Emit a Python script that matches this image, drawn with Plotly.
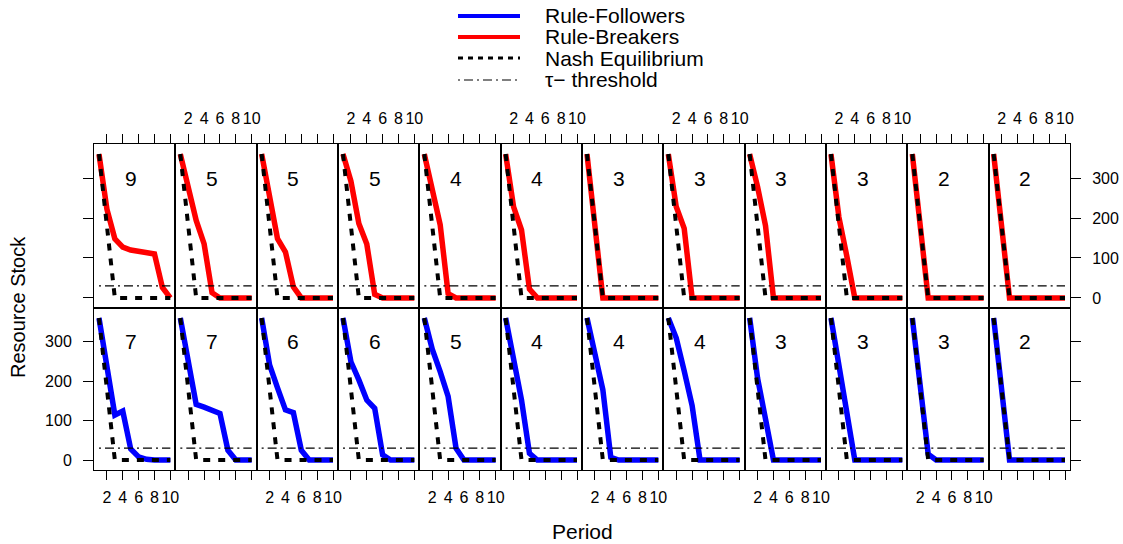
import plotly.graph_objects as go

# ---------------- data ----------------
PERIODS = [1, 2, 3, 4, 5, 6, 7, 8, 9, 10]
X_TICKS = [2, 4, 6, 8, 10]
Y_TICKS = [0, 100, 200, 300]

# panel labels (top row = Rule-Breakers, bottom row = Rule-Followers)
BREAKER_LABELS = [9, 5, 5, 5, 4, 4, 3, 3, 3, 3, 2, 2]
FOLLOWER_LABELS = [7, 7, 6, 6, 5, 4, 4, 4, 3, 3, 3, 2]

breakers_1 = [360, 222, 148, 127, 120, 117, 114, 110, 26, 0]
breakers_2 = [360, 275, 194, 135, 13, 0, 0, 0, 0, 0]
breakers_3 = [360, 255, 148, 115, 28, 0, 0, 0, 0, 0]
breakers_4 = [360, 292, 186, 135, 9, 0, 0, 0, 0, 0]
breakers_5 = [360, 270, 183, 11, 0, 0, 0, 0, 0, 0]
breakers_6 = [360, 228, 170, 22, 0, 0, 0, 0, 0, 0]
breakers_7 = [360, 180, 0, 0, 0, 0, 0, 0, 0, 0]
breakers_8 = [360, 228, 174, 0, 0, 0, 0, 0, 0, 0]
breakers_9 = [360, 278, 181, 0, 0, 0, 0, 0, 0, 0]
breakers_10 = [360, 202, 104, 0, 0, 0, 0, 0, 0, 0]
breakers_11 = [360, 180, 0, 0, 0, 0, 0, 0, 0, 0]
breakers_12 = [360, 180, 0, 0, 0, 0, 0, 0, 0, 0]

followers_1 = [360, 237, 114, 124, 28, 8, 2, 0, 0, 0]
followers_2 = [360, 251, 141, 134, 126, 118, 25, 0, 0, 0]
followers_3 = [360, 241, 183, 127, 120, 25, 0, 0, 0, 0]
followers_4 = [360, 249, 203, 152, 131, 13, 0, 0, 0, 0]
followers_5 = [360, 281, 224, 161, 30, 0, 0, 0, 0, 0]
followers_6 = [360, 258, 152, 17, 0, 0, 0, 0, 0, 0]
followers_7 = [360, 270, 178, 7, 0, 0, 0, 0, 0, 0]
followers_8 = [360, 309, 226, 138, 0, 0, 0, 0, 0, 0]
followers_9 = [360, 207, 104, 0, 0, 0, 0, 0, 0, 0]
followers_10 = [360, 240, 120, 0, 0, 0, 0, 0, 0, 0]
followers_11 = [360, 190, 15, 0, 0, 0, 0, 0, 0, 0]
followers_12 = [360, 180, 0, 0, 0, 0, 0, 0, 0, 0]

NASH = [360, 180, 0, 0, 0, 0, 0, 0, 0, 0]
TAU = 30

KEY_LABELS = ["Rule-Followers", "Rule-Breakers", "Nash Equilibrium", "τ\u2212 threshold"]

BREAKERS = [breakers_1, breakers_2, breakers_3, breakers_4, breakers_5, breakers_6,
            breakers_7, breakers_8, breakers_9, breakers_10, breakers_11, breakers_12]
FOLLOWERS = [followers_1, followers_2, followers_3, followers_4, followers_5, followers_6,
             followers_7, followers_8, followers_9, followers_10, followers_11, followers_12]

# ---------------- layout geometry ----------------
W, H = 1123, 544
FONT = "Liberation Sans, Arial, Helvetica, sans-serif"
LEFT, RIGHT = 94, 1070
TOP, MID, BOT = 144, 308, 470
NCOL = 12
colw = (RIGHT - LEFT) / NCOL
XR = [0.37, 10.63]
YR = [-25.2, 385.2]

NASH_DASH = "7px,8px"
TAU_DASH = "2px,4px,9px,4px"

fig = go.Figure()
layout = dict(
    width=W, height=H, template="none",
    margin=dict(l=0, r=0, t=0, b=0),
    paper_bgcolor="white", plot_bgcolor="white",
    showlegend=False,
    font=dict(family=FONT, size=16, color="black"),
)
annotations = []
shapes = []

for r in range(2):
    series = BREAKERS if r == 0 else FOLLOWERS
    labels = BREAKER_LABELS if r == 0 else FOLLOWER_LABELS
    color = "#FF0000" if r == 0 else "#0000FF"
    y0 = 1 - (MID if r == 0 else BOT) / H
    y1 = 1 - (TOP if r == 0 else MID) / H
    for c in range(NCOL):
        p = r * NCOL + c + 1
        xa = "x" if p == 1 else f"x{p}"
        ya = "y" if p == 1 else f"y{p}"
        xkey = "xaxis" if p == 1 else f"xaxis{p}"
        ykey = "yaxis" if p == 1 else f"yaxis{p}"
        x0 = (LEFT + c * colw) / W
        x1 = (LEFT + (c + 1) * colw) / W
        layout[xkey] = dict(
            domain=[x0, x1], range=XR, anchor=ya,
            side="top" if r == 0 else "bottom",
            tickmode="array", tickvals=X_TICKS,
            ticks="outside", ticklen=9, tickwidth=1, tickcolor="black",
            showticklabels=(c % 2 == 1) if r == 0 else (c % 2 == 0),
            ticklabelstandoff=4,
            tickfont=dict(size=16, family=FONT, color="black"),
            showline=True, linecolor="black", linewidth=1, mirror=True,
            showgrid=False, zeroline=False, automargin=False, fixedrange=True,
        )
        yt = ""
        side = "left"
        if c == 0:
            yt, side = "outside", "left"
        elif c == NCOL - 1:
            yt, side = "outside", "right"
        layout[ykey] = dict(
            domain=[y0, y1], range=YR, anchor=xa, side=side,
            tickmode="array", tickvals=Y_TICKS,
            ticks=yt, ticklen=10, tickwidth=1, tickcolor="black",
            showticklabels=(c == 0 and r == 1) or (c == NCOL - 1 and r == 0),
            ticklabelstandoff=8,
            tickfont=dict(size=16, family=FONT, color="black"),
            showline=True, linecolor="black", linewidth=1, mirror=True,
            showgrid=False, zeroline=False, automargin=False, fixedrange=True,
        )
        # group line
        fig.add_trace(go.Scatter(
            x=PERIODS, y=series[c], mode="lines", xaxis=xa, yaxis=ya,
            line=dict(color=color, width=5.5), hoverinfo="skip",
        ))
        # tau threshold
        fig.add_trace(go.Scatter(
            x=[PERIODS[0], PERIODS[-1]], y=[TAU, TAU], mode="lines", xaxis=xa, yaxis=ya,
            line=dict(color="black", width=1.2, dash=TAU_DASH), hoverinfo="skip",
        ))
        # Nash equilibrium
        fig.add_trace(go.Scatter(
            x=PERIODS, y=NASH, mode="lines", xaxis=xa, yaxis=ya,
            line=dict(color="black", width=4, dash=NASH_DASH), hoverinfo="skip",
        ))
        annotations.append(dict(
            x=5, y=300, xref=xa, yref=ya, text=str(labels[c]), showarrow=False,
            xanchor="center", yanchor="middle",
            font=dict(size=21, family=FONT, color="black"),
        ))

# axis titles
annotations.append(dict(x=18 / W, y=1 - 307 / H, xref="paper", yref="paper",
                        text="Resource Stock", textangle=-90, showarrow=False,
                        xanchor="center", yanchor="middle",
                        font=dict(size=20, family=FONT, color="black")))
annotations.append(dict(x=582 / W, y=1 - 531 / H, xref="paper", yref="paper",
                        text="Period", showarrow=False,
                        xanchor="center", yanchor="middle",
                        font=dict(size=21, family=FONT, color="black")))

# key (legend) at top: sample lines as shapes, labels as one block of text
KEY_STYLES = [
    dict(color="#0000FF", width=4),
    dict(color="#FF0000", width=4),
    dict(color="black", width=3, dash="5px,5px"),
    dict(color="black", width=1.2, dash=TAU_DASH),
]
KEY_Y = [16, 37, 58, 80]
for ln, ky in zip(KEY_STYLES, KEY_Y):
    yy = 1 - ky / H
    shapes.append(dict(type="line", xref="paper", yref="paper",
                       x0=458 / W, x1=520 / W, y0=yy, y1=yy, line=ln))
key_text = "<br>".join(f"<span style='font-size:21px'>{t}</span>" for t in KEY_LABELS)
annotations.append(dict(x=543 / W, y=1 - 47 / H, xref="paper", yref="paper",
                        text=key_text, showarrow=False, align="left",
                        xanchor="left", yanchor="middle",
                        font=dict(size=16.4, family=FONT, color="black")))

layout["annotations"] = annotations
layout["shapes"] = shapes
fig.update_layout(**layout)

fig.write_html("out.html", include_plotlyjs=True, config={"displayModeBar": False},
               post_script="document.body.style.margin='0';")
